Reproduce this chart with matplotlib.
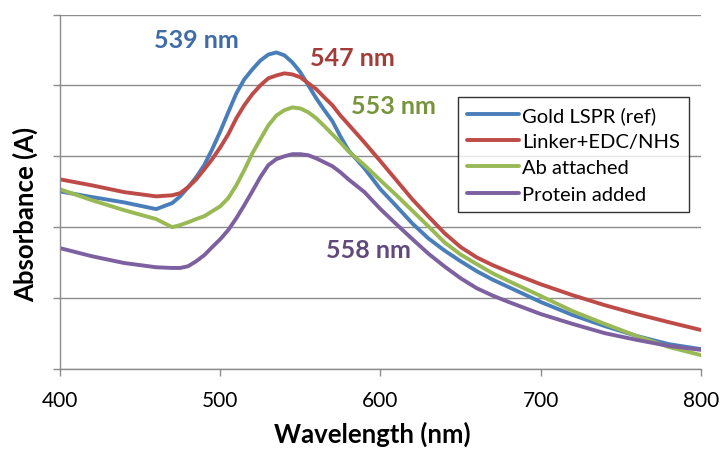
import matplotlib
matplotlib.use("Agg")
import matplotlib.pyplot as plt

plt.rcParams['font.family'] = ['Lato', 'DejaVu Sans']

wavelength = [400, 420, 440, 460,
              470, 475, 480, 485, 490, 495, 500, 505, 510, 515, 520, 525, 530, 535,
              540, 545, 550, 555, 560, 565, 570, 575, 580, 590, 600,
              610, 620, 630, 640, 650, 660, 670, 680,
              700, 720, 740, 760, 780, 800]

gold_ref = [0.501, 0.485, 0.470, 0.451,
            0.468, 0.487, 0.513, 0.541, 0.575, 0.620, 0.670, 0.724, 0.777, 0.817, 0.845,
            0.870, 0.887, 0.893, 0.885, 0.865, 0.837, 0.800, 0.763, 0.730, 0.699, 0.656,
            0.617, 0.566, 0.507,
            0.459, 0.410, 0.368, 0.334, 0.304, 0.276, 0.252, 0.231,
            0.189, 0.152, 0.121, 0.093, 0.070, 0.056]
linker = [0.535, 0.518, 0.499, 0.487,
          0.490, 0.496, 0.513, 0.535, 0.563, 0.592, 0.625, 0.662, 0.707, 0.744, 0.775,
          0.800, 0.820, 0.828, 0.834, 0.831, 0.823, 0.806, 0.789, 0.766, 0.744, 0.715,
          0.690, 0.639, 0.586,
          0.532, 0.478, 0.430, 0.383, 0.344, 0.315, 0.293, 0.274,
          0.239, 0.208, 0.180, 0.155, 0.132, 0.110]
ab_attached = [0.507, 0.476, 0.448, 0.423,
               0.400, 0.406, 0.414, 0.423, 0.431, 0.445, 0.459, 0.482, 0.518, 0.561, 0.608,
               0.648, 0.687, 0.715, 0.730, 0.738, 0.735, 0.724, 0.707, 0.685, 0.662, 0.639,
               0.614, 0.575, 0.532,
               0.490, 0.446, 0.402, 0.357, 0.323, 0.296, 0.270, 0.248,
               0.206, 0.163, 0.127, 0.093, 0.062, 0.039]
protein = [0.341, 0.318, 0.299, 0.287,
           0.285, 0.285, 0.290, 0.304, 0.321, 0.344, 0.366, 0.392, 0.425, 0.462, 0.501,
           0.541, 0.575, 0.592, 0.600, 0.606, 0.606, 0.603, 0.594, 0.583, 0.572, 0.555,
           0.535, 0.499, 0.451,
           0.408, 0.366, 0.325, 0.289, 0.256, 0.228, 0.207, 0.189,
           0.155, 0.127, 0.101, 0.082, 0.065, 0.054]

series_names = ["Gold LSPR (ref)", "Linker+EDC/NHS", "Ab attached", "Protein added"]
line_colors = ["#4A7EBB", "#BE4B48", "#98B954", "#7D60A0"]
peak_labels = ["539 nm", "547 nm", "553 nm", "558 nm"]
label_colors = ["#3F6CA8", "#A33C38", "#77933C", "#5F4A7B"]
label_pos = [(485, 0.930), (582.5, 0.879), (608, 0.744), (592.5, 0.338)]

fig = plt.figure(figsize=(7.2, 4.56), dpi=100)
ax = fig.add_axes([0.0833, 0.1886, 0.8903, 0.7774])

for ys, name, c in zip([gold_ref, linker, ab_attached, protein], series_names, line_colors):
    ax.plot(wavelength, ys, color=c, lw=2.8, label=name,
            solid_capstyle='round', solid_joinstyle='round')

for txt, c, (x, y) in zip(peak_labels, label_colors, label_pos):
    ax.text(x, y, txt, color=c, fontsize=18, fontweight='bold', ha='center', va='center')

ax.set_xlim(400, 800)
ax.set_ylim(0, 1.0)
ax.set_xticks([400, 500, 600, 700, 800])
ax.set_yticks([0, 0.2, 0.4, 0.6, 0.8, 1.0])
ax.set_yticklabels([])
ax.yaxis.grid(True, color="#8C8C8C", lw=1.0)
ax.set_axisbelow(True)
for s in ['top', 'right']:
    ax.spines[s].set_visible(False)
for s in ['left', 'bottom']:
    ax.spines[s].set_color("#8C8C8C")
    ax.spines[s].set_linewidth(1.0)
ax.tick_params(axis='both', color="#8C8C8C", length=5, width=1.0, direction='out')
ax.tick_params(axis='x', labelsize=15, pad=10)

ax.set_xlabel("Wavelength (nm)", fontsize=18.5, fontweight='bold')
ax.set_ylabel("Absorbance (A)", fontsize=18.5, fontweight='bold')
ax.xaxis.set_label_coords(0.487, -0.147)
ax.yaxis.set_label_coords(-0.034, 0.44)

leg = ax.legend(loc='upper left', bbox_to_anchor=(0.621, 0.767), fontsize=14.5,
                frameon=True, fancybox=False, handlelength=2.6, handletextpad=0.15,
                borderpad=0.45, labelspacing=0.45, borderaxespad=0)
leg.get_frame().set_edgecolor("black")
leg.get_frame().set_linewidth(1.0)

fig.savefig("out.png", dpi=100)
